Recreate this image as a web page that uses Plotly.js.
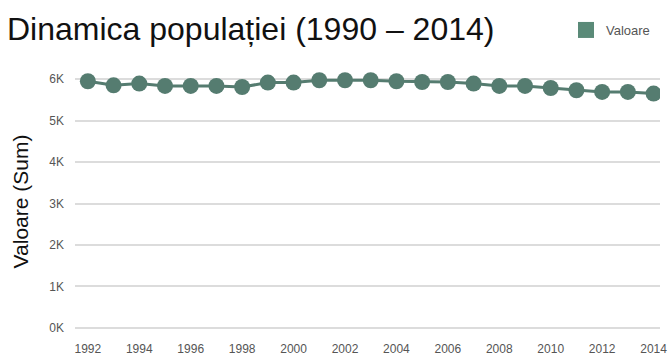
<!DOCTYPE html>
<html>
<head>
<meta charset="utf-8">
<script src="https://cdn.plot.ly/plotly-3.0.1.min.js"></script>
<style>html,body{margin:0;padding:0;background:#fff;}#chart{width:672px;height:358px;}</style>
</head>
<body>
<div id="chart"></div>
<script>
const years = [1992,1993,1994,1995,1996,1997,1998,1999,2000,2001,2002,2003,2004,2005,2006,2007,2008,2009,2010,2011,2012,2013,2014];
const values = [5952,5855,5896,5839,5839,5839,5814,5920,5920,5976,5976,5976,5952,5935,5935,5896,5839,5839,5790,5735,5694,5694,5655];
const xTicks = [1992,1994,1996,1998,2000,2002,2004,2006,2008,2010,2012,2014];
const yTicks = [0,1000,2000,3000,4000,5000,6000];
const yTickText = ['0K','1K','2K','3K','4K','5K','6K'];
const seriesName = 'Valoare';

const color = '#557c70';
const traces = [
  {x: years, y: values, type: 'scatter', mode: 'lines+markers', showlegend: false,
   line: {color: color, width: 3}, marker: {color: color, size: 16}, name: seriesName},
  {x: [null], y: [null], type: 'scatter', mode: 'markers', name: seriesName,
   marker: {color: '#5a8a78', size: 18, symbol: 'square'}}
];
const layout = {
  width: 672, height: 358,
  margin: {l: 75, r: 12, t: 71, b: 26, autoexpand: false},
  paper_bgcolor: '#fff', plot_bgcolor: '#fff',
  font: {family: 'Liberation Sans, Arial, sans-serif', color: '#555'},
  title: {text: 'Dinamica populației (1990 – 2014)', font: {size: 32, color: '#111'},
          x: 7/672, xanchor: 'left', xref: 'container', y: 1 - 29/358, yanchor: 'middle', yref: 'container'},
  showlegend: true,
  legend: {x: 566/672, xref: 'container', y: 1 - 30/358, yref: 'container', yanchor: 'middle', xanchor: 'left',
           font: {size: 13, color: '#555'}, bgcolor: 'rgba(0,0,0,0)', itemwidth: 30},
  xaxis: {range: [1991.5, 2014.25], tickvals: xTicks, showgrid: false, zeroline: false, showline: false,
          ticks: '', ticklabelstandoff: 8, tickfont: {size: 12, color: '#555'}},
  yaxis: {range: [-100, 6200], tickvals: yTicks, ticktext: yTickText, showgrid: true, gridcolor: '#dcdcdc', gridwidth: 2,
          zeroline: false, showline: false, ticks: '', ticklabelstandoff: 10,
          tickfont: {size: 12, color: '#555'},
          title: {text: 'Valoare (Sum)', font: {size: 21, color: '#111'}, standoff: 14}}
};
Plotly.newPlot('chart', traces, layout, {displayModeBar: false, staticPlot: true});
</script>
</body>
</html>
